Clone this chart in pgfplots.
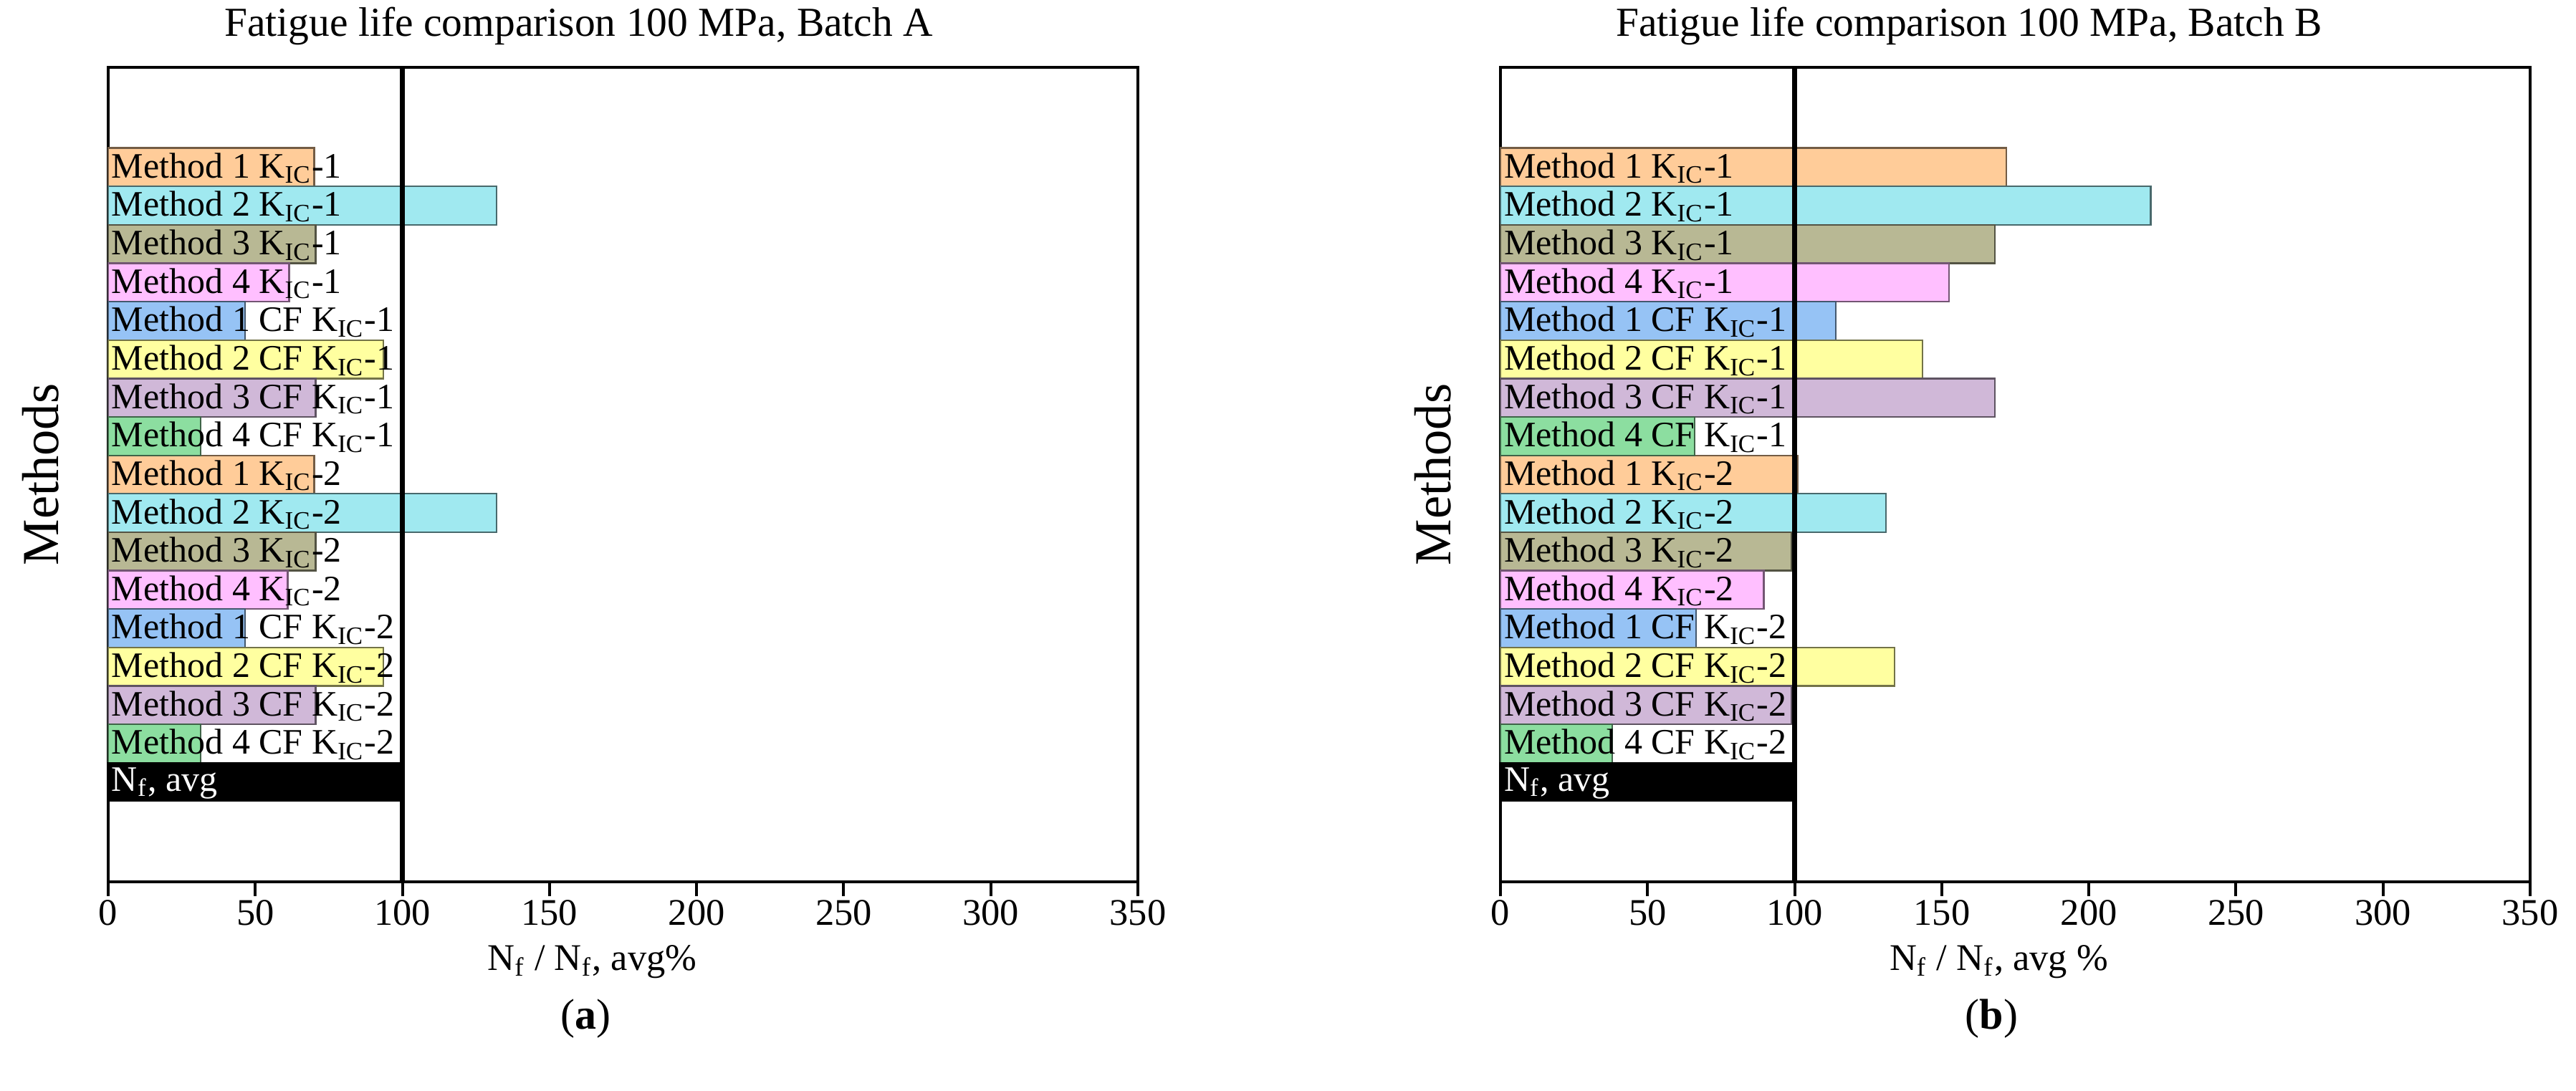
\documentclass[border=0pt]{standalone}
\usepackage{fontspec}
\setmainfont{Liberation Serif}
\usepackage{pgfplots}
\pgfplotsset{compat=1.18}

\definecolor{mone}{RGB}{255,204,153}
\definecolor{mtwo}{RGB}{160,233,240}
\definecolor{mthree}{RGB}{184,184,148}
\definecolor{mfour}{RGB}{255,191,255}
\definecolor{mcfone}{RGB}{150,195,245}
\definecolor{mcftwo}{RGB}{255,255,160}
\definecolor{mcfthree}{RGB}{208,184,216}
\definecolor{mcffour}{RGB}{140,222,160}

\newcommand{\KIC}{K\textsubscript{IC}}

% bar names, drawn over the bars from the left axis line
\newcommand{\barlabels}{%
  \node[lab] at (axis cs:0,17) {Method 1 \KIC-1};
  \node[lab] at (axis cs:0,16) {Method 2 \KIC-1};
  \node[lab] at (axis cs:0,15) {Method 3 \KIC-1};
  \node[lab] at (axis cs:0,14) {Method 4 \KIC-1};
  \node[lab] at (axis cs:0,13) {Method 1 CF \KIC-1};
  \node[lab] at (axis cs:0,12) {Method 2 CF \KIC-1};
  \node[lab] at (axis cs:0,11) {Method 3 CF \KIC-1};
  \node[lab] at (axis cs:0,10) {Method 4 CF \KIC-1};
  \node[lab] at (axis cs:0,9) {Method 1 \KIC-2};
  \node[lab] at (axis cs:0,8) {Method 2 \KIC-2};
  \node[lab] at (axis cs:0,7) {Method 3 \KIC-2};
  \node[lab] at (axis cs:0,6) {Method 4 \KIC-2};
  \node[lab] at (axis cs:0,5) {Method 1 CF \KIC-2};
  \node[lab] at (axis cs:0,4) {Method 2 CF \KIC-2};
  \node[lab] at (axis cs:0,3) {Method 3 CF \KIC-2};
  \node[lab] at (axis cs:0,2) {Method 4 CF \KIC-2};
  \node[lab, text=white] at (axis cs:0,1) {N\textsubscript{f}, avg};
}

\tikzset{lab/.style={anchor=west, inner xsep=0.8pt, inner ysep=0pt, yshift=-0.3pt,
  font=\fontsize{10}{10}\selectfont}}

\pgfplotsset{
  fatigue/.style={
    scale only axis, width=287.4pt, height=227.4pt,
    anchor=south west, clip=false,
    xmin=0, xmax=350, ymin=-1.6, ymax=19.6,
    xtick={0,50,...,350}, xtick pos=bottom, tick align=outside,
    major tick length=4pt,
    xtick style={line width=0.8pt, black},
    /pgf/number format/assume math mode=true,
    xticklabel style={font=\fontsize{10.5}{10.5}\selectfont, yshift=2.5pt},
    ytick=\empty,
    axis line style={line width=0.9pt},
    title style={at={(axis description cs:0.457,1)}, anchor=center, yshift=5.5pt,
      font=\fontsize{11.5}{12}\selectfont},
    xlabel style={at={(axis description cs:0.47,0)}, anchor=center, yshift=-22.3pt,
      font=\fontsize{10.5}{12}\selectfont},
    ylabel={Methods},
    ylabel style={at={(axis description cs:0,0.5)}, anchor=center, yshift=18.8pt,
      font=\fontsize{14.5}{15}\selectfont},
  },
  bars/.style={xbar, bar width=1, bar shift=0pt, fill=#1, draw=#1!45!black, line width=0.45pt},
}

\begin{document}
\begin{tikzpicture}
\useasboundingbox (0,0) rectangle (719pt,304.6pt);

% (a) Batch A
\begin{axis}[fatigue, at={(30.2pt,58.4pt)},
  title={Fatigue life comparison 100 MPa, Batch A},
  xlabel={N\textsubscript{f} / N\textsubscript{f}, avg\%}]
\addplot[bars=mone]     coordinates {(70,17) (70,9)};
\addplot[bars=mtwo]     coordinates {(132,16) (132,8)};
\addplot[bars=mthree]   coordinates {(70.5,15) (70.5,7)};
\addplot[bars=mfour]    coordinates {(61.5,14) (61,6)};
\addplot[bars=mcfone]   coordinates {(46.5,13) (46.5,5)};
\addplot[bars=mcftwo]   coordinates {(93.5,12) (93.5,4)};
\addplot[bars=mcfthree] coordinates {(70.5,11) (70.5,3)};
\addplot[bars=mcffour]  coordinates {(31.5,10) (31.5,2)};
\addplot[bars=black] coordinates {(100,1)};
\addplot[no marks, line width=1.4pt, black] coordinates {(100,-1.6) (100,19.6)};
\barlabels
\node[font=\fontsize{12}{12}\selectfont] at (axis description cs:0.464,0) [yshift=-38.2pt] {(\textbf{a})};
\end{axis}

% (b) Batch B
\begin{axis}[fatigue, at={(418.8pt,58.4pt)},
  title={Fatigue life comparison 100 MPa, Batch B},
  title style={at={(axis description cs:0.455,1)}},
  xlabel={N\textsubscript{f} / N\textsubscript{f}, avg \%},
  xlabel style={at={(axis description cs:0.484,0)}}]
\addplot[bars=mone]     coordinates {(172,17) (101,9)};
\addplot[bars=mtwo]     coordinates {(221,16) (131,8)};
\addplot[bars=mthree]   coordinates {(168,15) (99,7)};
\addplot[bars=mfour]    coordinates {(152.5,14) (89.5,6)};
\addplot[bars=mcfone]   coordinates {(114,13) (66.5,5)};
\addplot[bars=mcftwo]   coordinates {(143.5,12) (134,4)};
\addplot[bars=mcfthree] coordinates {(168,11) (99,3)};
\addplot[bars=mcffour]  coordinates {(66,10) (38,2)};
\addplot[bars=black] coordinates {(100,1)};
\addplot[no marks, line width=1.4pt, black] coordinates {(100,-1.6) (100,19.6)};
\barlabels
\node[font=\fontsize{12}{12}\selectfont] at (axis description cs:0.477,0) [yshift=-38.2pt] {(\textbf{b})};
\end{axis}
\end{tikzpicture}
\end{document}
